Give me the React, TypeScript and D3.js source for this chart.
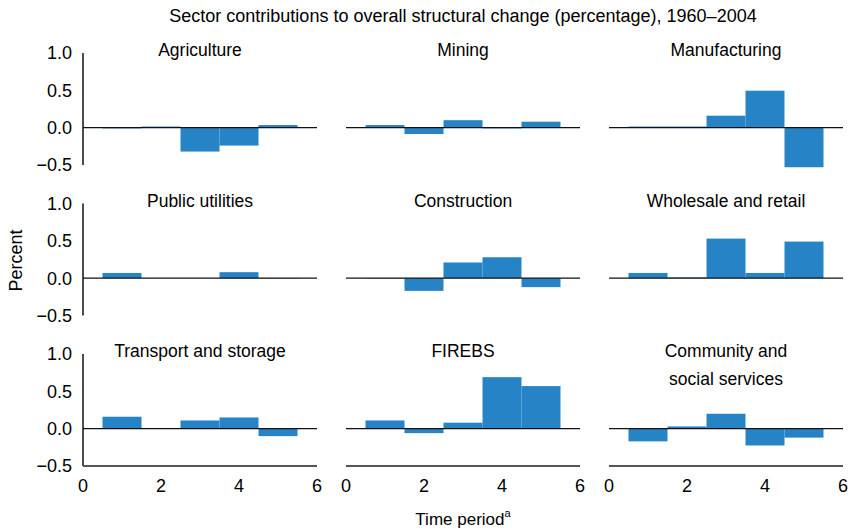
import * as d3 from 'd3';
import { useEffect, useRef } from 'react';

// sector panels, read left-to-right, top-to-bottom
const sectors = [
  'Agriculture',
  'Mining',
  'Manufacturing',
  'Public utilities',
  'Construction',
  'Wholesale and retail',
  'Transport and storage',
  'FIREBS',
  'Community and\nsocial services',
];

const periods = [1, 2, 3, 4, 5];

const agriculture = [-0.01, 0.015, -0.32, -0.24, 0.035];
const mining = [0.035, -0.085, 0.1, -0.01, 0.08];
const manufacturing = [0.015, 0.015, 0.16, 0.495, -0.53];
const publicUtilities = [0.07, 0.0, 0.0, 0.08, -0.005];
const construction = [-0.005, -0.17, 0.21, 0.28, -0.12];
const wholesaleRetail = [0.07, 0.01, 0.53, 0.07, 0.49];
const transportStorage = [0.16, 0.01, 0.11, 0.15, -0.1];
const firebs = [0.11, -0.06, 0.08, 0.69, 0.57];
const communitySocial = [-0.17, 0.03, 0.2, -0.225, -0.12];

const seriesValues = [
  agriculture,
  mining,
  manufacturing,
  publicUtilities,
  construction,
  wholesaleRetail,
  transportStorage,
  firebs,
  communitySocial,
];

const yTicks = [1.0, 0.5, 0.0, -0.5];
const xTicks = [0, 2, 4, 6];

const W = 856;
const H = 532;
const FONT = '"Liberation Sans", Arial, sans-serif';
const BAR = '#2683c6';

const App = () => {
  const svgRef = useRef<SVGSVGElement>(null);

  useEffect(() => {
    document.body.style.margin = '0';
    const svg = d3.select(svgRef.current);
    svg.selectAll('*').remove();

    const left = 83;
    const right = 843;
    const top = 53;
    const bottom = 466;
    const colGap = 29;
    const rowGap = 38.5;
    const pw = (right - left - 2 * colGap) / 3;
    const ph = (bottom - top - 2 * rowGap) / 3;

    svg
      .append('text')
      .attr('x', (left + right) / 2)
      .attr('y', 22)
      .attr('text-anchor', 'middle')
      .style('font-size', '18px')
      .text('Sector contributions to overall structural change (percentage), 1960\u20132004');

    sectors.forEach((name, i) => {
      const col = i % 3;
      const row = Math.floor(i / 3);
      const x0 = left + col * (pw + colGap);
      const y0 = top + row * (ph + rowGap);
      const g = svg.append('g').attr('transform', `translate(${x0},${y0})`);

      const x = d3.scaleLinear().domain([0, 6]).range([0, pw]);
      const y = d3.scaleLinear().domain([-0.5, 1.0]).range([ph, 0]);
      const vals = seriesValues[i];

      g.selectAll('.bar')
        .data(periods)
        .join('rect')
        .attr('class', 'bar')
        .attr('x', (p) => x(p - 0.5))
        .attr('width', x(1) - x(0))
        .attr('y', (_, j) => y(Math.max(0, vals[j])))
        .attr('height', (_, j) => Math.abs(y(vals[j]) - y(0)))
        .style('fill', BAR);

      // zero line
      g.append('line')
        .attr('x1', 0)
        .attr('x2', pw)
        .attr('y1', y(0))
        .attr('y2', y(0))
        .attr('stroke', '#111')
        .attr('stroke-width', 1.2);

      if (col === 0) {
        g.append('line')
          .attr('x1', 0)
          .attr('x2', 0)
          .attr('y1', y(1))
          .attr('y2', y(-0.5))
          .attr('stroke', '#111')
          .attr('stroke-width', 1.5);
        g.selectAll('.ytick')
          .data(yTicks)
          .join('text')
          .attr('class', 'ytick')
          .attr('x', -11)
          .attr('y', (d) => y(d))
          .attr('dy', '0.36em')
          .attr('text-anchor', 'end')
          .style('font-size', '18px')
          .text((d) => d3.format('.1f')(d).replace('-', '\u2013'));
      }

      if (row === 2) {
        g.append('line')
          .attr('x1', 0)
          .attr('x2', pw)
          .attr('y1', y(-0.5))
          .attr('y2', y(-0.5))
          .attr('stroke', '#555')
          .attr('stroke-width', 2);
        g.selectAll('.xtick')
          .data(xTicks)
          .join('text')
          .attr('class', 'xtick')
          .attr('x', (d) => x(d))
          .attr('y', ph + 26)
          .attr('text-anchor', 'middle')
          .style('font-size', '18px')
          .text((d) => d);
      }

      const t = g
        .append('text')
        .attr('x', pw / 2)
        .attr('y', 3)
        .attr('text-anchor', 'middle')
        .style('font-size', '17.5px');
      name.split('\n').forEach((line, k) => {
        t.append('tspan')
          .attr('x', pw / 2)
          .attr('dy', k === 0 ? 0 : 28)
          .text(line);
      });
    });

    svg
      .append('text')
      .attr('transform', `translate(22,${(top + bottom) / 2 + 1}) rotate(-90)`)
      .attr('text-anchor', 'middle')
      .style('font-size', '18px')
      .text('Percent');

    const xl = svg
      .append('text')
      .attr('x', (left + right) / 2)
      .attr('y', 525)
      .attr('text-anchor', 'middle')
      .style('font-size', '17px');
    xl.append('tspan').text('Time period');
    xl.append('tspan').attr('dy', -8).style('font-size', '11px').text('a');
  }, []);

  return (
    <svg
      ref={svgRef}
      width={W}
      height={H}
      style={{ display: 'block', fontFamily: FONT, background: '#fff' }}
    />
  );
};

export default App;
